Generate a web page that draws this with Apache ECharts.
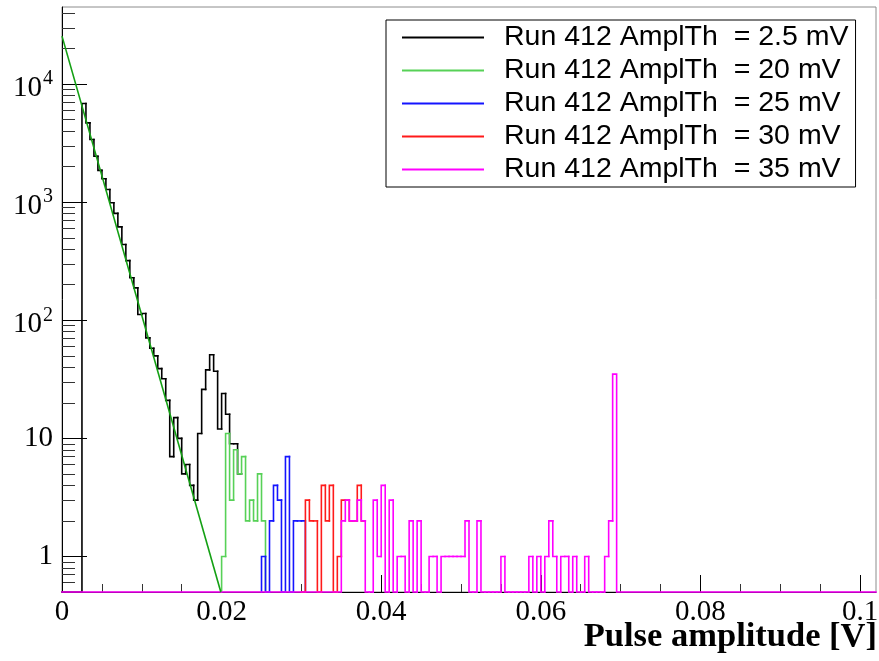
<!DOCTYPE html>
<html>
<head>
<meta charset="utf-8">
<script src="https://cdn.jsdelivr.net/npm/echarts@6/dist/echarts.min.js"></script>
<style>
  html, body { margin: 0; padding: 0; background: #fff; }
  #chart { width: 879px; height: 661px; }
</style>
</head>
<body>
<div id="chart"></div>
<script>
// Pulse-amplitude spectra, 0.5 mV bins
const BIN_WIDTH = 0.0005;
const X_MIN = 0, X_MAX = 0.102;
const Y_MIN = 0.5, Y_MAX = 45000;

const xMajorTicks = [0, 0.02, 0.04, 0.06, 0.08, 0.1];
const yMajorTicks = [1, 10, 100, 1000, 10000];

const xTitle = 'Pulse amplitude [V]';
const seriesNames = [
  'Run 412 AmplTh  = 2.5 mV',
  'Run 412 AmplTh  = 20 mV',
  'Run 412 AmplTh  = 25 mV',
  'Run 412 AmplTh  = 30 mV',
  'Run 412 AmplTh  = 35 mV'
];

// Counts per bin, each list starting at its first bin index
const blackFirstBin = 5;
const blackCounts = [6850, 4700, 3400, 2450, 1860, 1580, 1280, 990, 805, 618,
  438, 320, 229, 188, 112, 114, 71, 58, 50, 39,
  32, 21, 7, 15, 10, 5, 6, 4, 3, 11,
  26, 38, 51, 37, 12, 24, 16, 9, 9, 5];

const greenFirstBin = 40;
const greenCounts = [1, 11, 3, 8, 5, 7, 2, 3, 2, 5, 2];

const blueFirstBin = 50;
const blueCounts = [1, 0, 2, 4, 3, 0, 7, 0, 2, 2, 2];

const redFirstBin = 60;
const redCounts = [0, 3, 2, 2, 0, 4, 2, 4, 0, 1, 3, 3, 2, 2, 4, 2];

const magentaFirstBin = 70;
const magentaCounts = [2, 3, 2, 2, 3, 2, 0, 0, 3, 1,
  4, 0, 3, 0, 1, 1, 0, 2, 0, 2,
  0, 0, 1, 1, 0, 1, 1, 1, 1, 1,
  1, 2, 0, 0, 2, 0, 0, 0, 0, 0,
  1, 0, 0, 0, 0, 0, 0, 1, 0, 1,
  0, 1, 2, 1, 0, 1, 1, 0, 1, 0,
  0, 1, 0, 0, 0, 0, 1, 2, 35];

// Exponential fit to the 2.5 mV spectrum (straight on the log scale)
const fitPoints = [[0, 25500], [0.0199, 0.5]];

// Minor tick positions: 0.005 V steps on x, 2..9 per decade on y
const xMinorTicks = [];
for (let i = 1; i < 20; i++) {
  if (i % 4 !== 0) xMinorTicks.push(+(i * 0.005).toFixed(3));
}
const yMinorTicks = [];
for (let e = -1; e <= 4; e++) {
  for (let m = 2; m <= 9; m++) {
    const v = +(m * Math.pow(10, e)).toPrecision(3);
    if (v > Y_MIN && v < Y_MAX) yMinorTicks.push(v);
  }
}

function histItems(firstBin, counts) {
  return counts.map(function (c, j) {
    const bin = firstBin + j;
    return [+(bin * BIN_WIDTH).toFixed(5), +((bin + 1) * BIN_WIDTH).toFixed(5), c, j > 0 ? counts[j - 1] : 0];
  });
}

// Step outline of a histogram; empty bins sit on the lower frame edge
function histRenderer(count, opts) {
  return function (params, api) {
    const cs = params.coordSys;
    const base = cs.y + cs.height;
    const yOf = function (v) { return v > 0 ? api.coord([X_MIN, v])[1] : base; };
    const lo = api.coord([api.value(0), Y_MIN])[0];
    const hi = api.coord([api.value(1), Y_MIN])[0];
    const y = yOf(api.value(2));
    const yPrev = yOf(api.value(3));
    const pts = [];
    if (params.dataIndex === 0 && opts.leadIn) pts.push([cs.x, base]);
    pts.push([lo, yPrev], [lo, y], [hi, y]);
    if (params.dataIndex === count - 1 && opts.closeEnd) {
      pts.push([hi, base]);
      if (opts.tailOut) pts.push([cs.x + cs.width, base]);
    }
    return {
      type: 'polyline',
      shape: { points: pts },
      style: { stroke: api.visual('color'), fill: null, lineWidth: 1.6, lineCap: 'square', lineJoin: 'miter' }
    };
  };
}

function histSeries(name, color, firstBin, counts, opts) {
  return {
    type: 'custom',
    name: name,
    coordinateSystem: 'cartesian2d',
    itemStyle: { color: color },
    data: histItems(firstBin, counts),
    renderItem: histRenderer(counts.length, opts),
    encode: { x: [0, 1], y: 2 },
    silent: true
  };
}

const serif = 'Liberation Serif';

const chart = echarts.init(document.getElementById('chart'), null, { renderer: 'canvas' });
chart.setOption({
  animation: false,
  backgroundColor: '#fff',
  title: {
    text: xTitle,
    right: 2, top: 619, padding: 0,
    textStyle: { fontFamily: serif, fontWeight: 'bold', fontSize: 34.5, color: '#000', lineHeight: 37 }
  },
  grid: {
    left: 62, top: 7, width: 814, height: 585,
    show: true, borderColor: '#8c8c8c', borderWidth: 1,
    containLabel: false, outerBoundsMode: 'none'
  },
  legend: {
    data: seriesNames,
    orient: 'vertical',
    left: 386, top: 20,
    icon: 'rect', itemWidth: 82, itemHeight: 2, itemGap: 0,
    padding: [1, 7, 1, 16],
    borderColor: '#000', borderWidth: 1, backgroundColor: '#fff',
    selectedMode: false,
    itemStyle: { borderWidth: 0 },
    textStyle: { fontFamily: 'Liberation Sans', fontSize: 28.5, color: '#000', lineHeight: 33, padding: [0, 0, 0, 15] }
  },
  xAxis: [
    {
      type: 'value', min: X_MIN, max: X_MAX, position: 'bottom',
      axisLine: { show: true, onZero: false, lineStyle: { color: '#000', width: 1 } },
      axisTick: { show: true, inside: true, length: 17, customValues: xMajorTicks, lineStyle: { color: '#000', width: 1 } },
      axisLabel: { customValues: xMajorTicks, fontFamily: serif, fontSize: 29, color: '#000', margin: 6,
        formatter: function (v) { return String(v); } },
      splitLine: { show: false }
    },
    {
      type: 'value', min: X_MIN, max: X_MAX, position: 'bottom',
      axisLine: { show: false, onZero: false },
      axisTick: { show: true, inside: true, length: 8, customValues: xMinorTicks, lineStyle: { color: '#333', width: 1 } },
      axisLabel: { show: false },
      splitLine: { show: false }
    }
  ],
  yAxis: [
    {
      type: 'log', logBase: 10, min: Y_MIN, max: Y_MAX, position: 'left',
      axisLine: { show: true, onZero: false, lineStyle: { color: '#000', width: 1 } },
      axisTick: { show: true, inside: true, length: 25, customValues: yMajorTicks, lineStyle: { color: '#000', width: 1 } },
      axisLabel: {
        customValues: yMajorTicks, fontFamily: serif, fontSize: 29, color: '#000', margin: 9,
        formatter: function (v) {
          const e = Math.round(Math.log10(v));
          return e >= 2 ? '{b|10}{s|' + e + '}' : String(v);
        },
        rich: {
          b: { fontFamily: serif, fontSize: 29, color: '#000', lineHeight: 30, padding: [8, 0, 0, 0] },
          s: { fontFamily: serif, fontSize: 20, color: '#000', lineHeight: 30, verticalAlign: 'top', padding: [0, 0, 0, 1] }
        }
      },
      splitLine: { show: false }
    },
    {
      type: 'log', logBase: 10, min: Y_MIN, max: Y_MAX, position: 'left',
      axisLine: { show: false, onZero: false },
      axisTick: { show: true, inside: true, length: 13, customValues: yMinorTicks, lineStyle: { color: '#333', width: 1 } },
      axisLabel: { show: false },
      splitLine: { show: false }
    }
  ],
  series: [
    histSeries(seriesNames[0], '#000000', blackFirstBin, blackCounts, { leadIn: true, closeEnd: false }),
    {
      type: 'line', name: 'fit', data: fitPoints, symbol: 'none', silent: true,
      lineStyle: { color: '#14a014', width: 1.6 }
    },
    histSeries(seriesNames[1], '#57d157', greenFirstBin, greenCounts, { leadIn: false, closeEnd: true }),
    histSeries(seriesNames[2], '#1414ff', blueFirstBin, blueCounts, { leadIn: false, closeEnd: true }),
    histSeries(seriesNames[3], '#ff1a1a', redFirstBin, redCounts, { leadIn: false, closeEnd: false }),
    histSeries(seriesNames[4], '#ff00ff', magentaFirstBin, magentaCounts, { leadIn: true, closeEnd: true, tailOut: true })
  ]
});
</script>
</body>
</html>
